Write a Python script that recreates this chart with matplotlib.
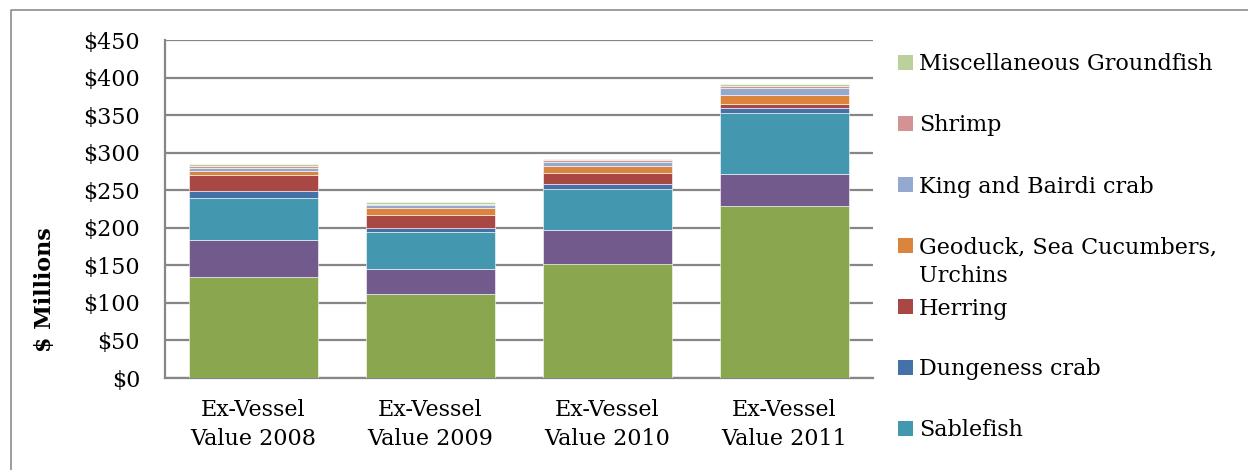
import matplotlib.pyplot as plt
from matplotlib.patches import Rectangle
from matplotlib.lines import Line2D
import numpy as np

# Ex-vessel value by species, $ millions (bottom of the stack first)
years = ['Ex-Vessel\nValue 2008', 'Ex-Vessel\nValue 2009',
         'Ex-Vessel\nValue 2010', 'Ex-Vessel\nValue 2011']
species = ['Salmon', 'Halibut', 'Sablefish', 'Dungeness crab', 'Herring',
           'Geoduck, Sea Cucumbers,\nUrchins', 'King and Bairdi crab',
           'Shrimp', 'Miscellaneous Groundfish']
salmon = [134.5, 111.8, 151.3, 229.0]
halibut = [49.5, 32.9, 45.7, 43.0]
sablefish = [55.0, 49.3, 55.0, 81.0]
dungeness = [10.0, 5.7, 5.8, 6.0]
herring = [21.0, 17.8, 15.2, 6.0]
geoduck = [5.6, 8.8, 9.3, 11.8]
king_bairdi = [4.4, 3.7, 5.3, 9.2]
shrimp = [2.6, 2.0, 2.4, 2.8]
misc_groundfish = [1.9, 2.3, 2.0, 2.2]
values = [salmon, halibut, sablefish, dungeness, herring, geoduck,
          king_bairdi, shrimp, misc_groundfish]
colors = ['#8AA64E', '#725A8C', '#4398AF', '#4472A8', '#A84744',
          '#DA843E', '#94A9CF', '#D59292', '#BBD09A']
yticks = [0, 50, 100, 150, 200, 250, 300, 350, 400, 450]

W, H = 1248, 470
fig = plt.figure(figsize=(W / 100, H / 100), dpi=100)
plt.rcParams['font.family'] = 'DejaVu Serif'

# outer chart frame (left and top edges)
frame_x = [11 / W, 11 / W, 1.1]
frame_y = [-0.1, 1 - 10 / H, 1 - 10 / H]
fig.lines.append(Line2D(frame_x, frame_y, transform=fig.transFigure,
                        color='#8C8C8C', linewidth=1.2))

ax = fig.add_axes([165 / W, 1 - 378 / H, 708 / W, 338 / H])
x = np.arange(len(years))
bottom = np.zeros(len(years))
for vals, c in zip(values, colors):
    ax.bar(x, vals, width=0.73, bottom=bottom, color=c,
           edgecolor='white', linewidth=0.4, zorder=3)
    bottom += np.array(vals)

ax.set_xlim(-0.5, 3.5)
ax.set_ylim(0, 450)
ax.set_yticks(yticks)
ax.set_yticklabels(['$%d' % v for v in yticks], fontsize=16)
ax.set_xticks(x)
ax.set_xticklabels(years, fontsize=16, linespacing=1.4)
ax.tick_params(axis='y', length=0, pad=18)
ax.tick_params(axis='x', length=0, pad=15)
ax.yaxis.grid(True, color='#868686', linewidth=1.6, zorder=0)
ax.set_axisbelow(True)
for s in ['top', 'right']:
    ax.spines[s].set_visible(False)
for s in ['left', 'bottom']:
    ax.spines[s].set_color('#868686')
    ax.spines[s].set_linewidth(1.6)

fig.text(45 / W, 1 - 290 / H, '$ Millions', rotation=90, ha='center',
         va='center', fontsize=16, fontweight='bold')

# legend, top series first; the last entries run past the bottom edge
order = list(range(len(species)))[::-1][:7]
for i, k in enumerate(order):
    yc = 62 + 61 * i
    fig.patches.append(Rectangle((898 / W, 1 - (yc + 7.5) / H), 15 / W, 15 / H,
                                 transform=fig.transFigure,
                                 facecolor=colors[k], edgecolor='none'))
    for j, line in enumerate(species[k].split('\n')):
        fig.text(919 / W, 1 - (yc + 28 * j) / H, line, ha='left',
                 va='center_baseline', fontsize=16)

fig.savefig('out.png', dpi=100)
